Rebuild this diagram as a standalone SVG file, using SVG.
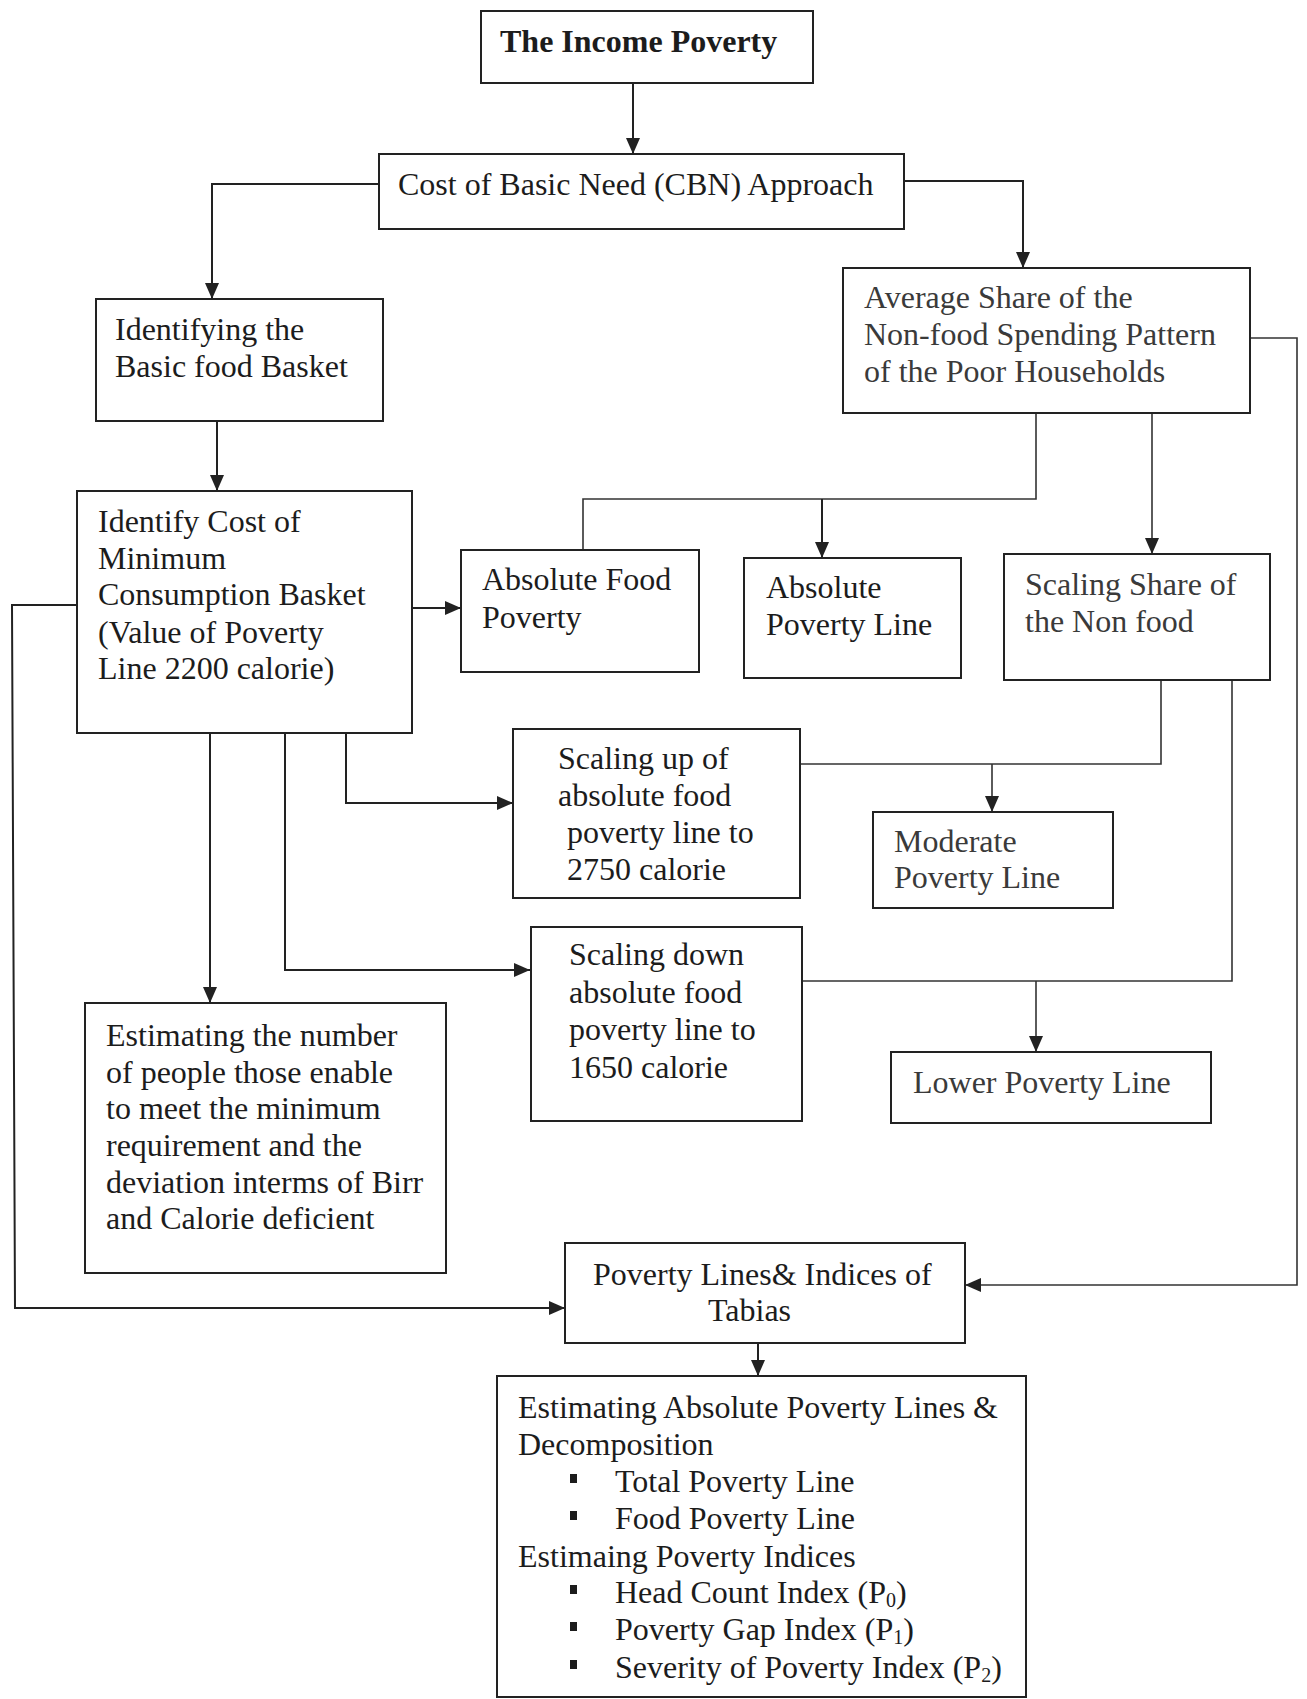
<svg xmlns="http://www.w3.org/2000/svg" width="1307" height="1699" viewBox="0 0 1307 1699">
<style>
.box{fill:#fff;stroke:#222;stroke-width:2}
.t{font-family:"Liberation Serif","Times New Roman",serif;font-size:32px;fill:#1c1c1c}
.g{fill:#3a3a3a}
.b{font-weight:bold}
.c{fill:none;stroke:#222;stroke-width:2}
.c2{fill:none;stroke:#333;stroke-width:1.6}
.sub{font-size:20px}
</style>
<defs>
<marker id="ah" markerUnits="userSpaceOnUse" markerWidth="16" markerHeight="14" refX="16" refY="7" orient="auto">
<path d="M0,0 L16,7 L0,14 Z" fill="#222"/>
</marker>
</defs>
<rect width="1307" height="1699" fill="#fff"/>

<g id="connectors">
<path class="c" d="M633,83 V154" marker-end="url(#ah)"/>
<path class="c" d="M379,184 H212 V299" marker-end="url(#ah)"/>
<path class="c" d="M904,181 H1023 V268" marker-end="url(#ah)"/>
<path class="c" d="M217,421 V491" marker-end="url(#ah)"/>
<path class="c" d="M412,608 H461" marker-end="url(#ah)"/>
<path class="c2" d="M1036,413 V499 H583 V550"/>
<path class="c" d="M822,499 V558" marker-end="url(#ah)"/>
<path class="c2" d="M1152,413 V554" marker-end="url(#ah)"/>
<path class="c2" d="M1250,338 H1297 V1285 H965" marker-end="url(#ah)"/>
<path class="c" d="M346,733 V803 H513" marker-end="url(#ah)"/>
<path class="c" d="M285,733 V970 H530" marker-end="url(#ah)"/>
<path class="c" d="M210,733 V1003" marker-end="url(#ah)"/>
<path class="c" d="M77,605 H12 L15,1308 H565" marker-end="url(#ah)"/>
<path class="c2" d="M1161,680 V764 H800"/>
<path class="c2" d="M992,764 V812" marker-end="url(#ah)"/>
<path class="c2" d="M1232,680 V981 H802"/>
<path class="c2" d="M1036,981 V1052" marker-end="url(#ah)"/>
<path class="c" d="M758,1343 V1376" marker-end="url(#ah)"/>
</g>

<g id="income-poverty">
<rect class="box" x="481" y="11" width="332" height="72"/>
<text class="t b" x="500" y="52">The Income Poverty</text>
</g>

<g id="cbn">
<rect class="box" x="379" y="154" width="525" height="75"/>
<text class="t" x="398" y="195">Cost of Basic Need (CBN) Approach</text>
</g>

<g id="basic-food-basket">
<rect class="box" x="96" y="299" width="287" height="122"/>
<text class="t" x="115" y="340">Identifying the</text>
<text class="t" x="115" y="377">Basic food Basket</text>
</g>

<g id="average-share">
<rect class="box" x="843" y="268" width="407" height="145"/>
<text class="t g" x="864" y="308">Average Share of the</text>
<text class="t g" x="864" y="345">Non-food Spending Pattern</text>
<text class="t g" x="864" y="382">of the Poor Households</text>
</g>

<g id="identify-cost">
<rect class="box" x="77" y="491" width="335" height="242"/>
<text class="t" x="98" y="532">Identify Cost of</text>
<text class="t" x="98" y="569">Minimum</text>
<text class="t" x="98" y="605">Consumption Basket</text>
<text class="t" x="98" y="643">(Value of Poverty</text>
<text class="t" x="98" y="679">Line 2200 calorie)</text>
</g>

<g id="absolute-food-poverty">
<rect class="box" x="461" y="550" width="238" height="122"/>
<text class="t" x="482" y="590">Absolute Food</text>
<text class="t" x="482" y="628">Poverty</text>
</g>

<g id="absolute-poverty-line">
<rect class="box" x="744" y="558" width="217" height="120"/>
<text class="t" x="766" y="598">Absolute</text>
<text class="t" x="766" y="635">Poverty Line</text>
</g>

<g id="scaling-share">
<rect class="box" x="1004" y="554" width="266" height="126"/>
<text class="t g" x="1025" y="595">Scaling Share of</text>
<text class="t g" x="1025" y="632">the Non food</text>
</g>

<g id="scaling-up">
<rect class="box" x="513" y="729" width="287" height="169"/>
<text class="t" x="558" y="769">Scaling up of</text>
<text class="t" x="558" y="806">absolute food</text>
<text class="t" x="567" y="843">poverty line to</text>
<text class="t" x="567" y="880">2750 calorie</text>
</g>

<g id="moderate-poverty-line">
<rect class="box" x="873" y="812" width="240" height="96"/>
<text class="t g" x="894" y="852">Moderate</text>
<text class="t g" x="894" y="888">Poverty Line</text>
</g>

<g id="scaling-down">
<rect class="box" x="531" y="927" width="271" height="194"/>
<text class="t" x="569" y="965">Scaling down</text>
<text class="t" x="569" y="1003">absolute food</text>
<text class="t" x="569" y="1040">poverty line to</text>
<text class="t" x="569" y="1078">1650 calorie</text>
</g>

<g id="lower-poverty-line">
<rect class="box" x="891" y="1052" width="320" height="71"/>
<text class="t g" x="913" y="1093">Lower Poverty Line</text>
</g>

<g id="estimating-number">
<rect class="box" x="85" y="1003" width="361" height="270"/>
<text class="t" x="106" y="1046">Estimating the number</text>
<text class="t" x="106" y="1083">of people those enable</text>
<text class="t" x="106" y="1119">to meet the minimum</text>
<text class="t" x="106" y="1156">requirement and the</text>
<text class="t" x="106" y="1193">deviation interms of Birr</text>
<text class="t" x="106" y="1229">and Calorie deficient</text>
</g>

<g id="poverty-lines-indices">
<rect class="box" x="565" y="1243" width="400" height="100"/>
<text class="t" x="593" y="1285">Poverty Lines&amp; Indices of</text>
<text class="t" x="708" y="1321">Tabias</text>
</g>

<g id="estimating-absolute">
<rect class="box" x="497" y="1376" width="529" height="321"/>
<text class="t" x="518" y="1418">Estimating Absolute Poverty Lines &amp;</text>
<text class="t" x="518" y="1455">Decomposition</text>
<rect x="570" y="1474" width="7" height="9" fill="#1c1c1c"/>
<text class="t" x="615" y="1492">Total Poverty Line</text>
<rect x="570" y="1511" width="7" height="9" fill="#1c1c1c"/>
<text class="t" x="615" y="1529">Food Poverty Line</text>
<text class="t" x="518" y="1567">Estimaing Poverty Indices</text>
<rect x="570" y="1585" width="7" height="9" fill="#1c1c1c"/>
<text class="t" x="615" y="1603">Head Count Index (P<tspan class="sub" dy="4">0</tspan><tspan dy="-4">)</tspan></text>
<rect x="570" y="1622" width="7" height="9" fill="#1c1c1c"/>
<text class="t" x="615" y="1640">Poverty Gap Index (P<tspan class="sub" dy="4">1</tspan><tspan dy="-4">)</tspan></text>
<rect x="570" y="1660" width="7" height="9" fill="#1c1c1c"/>
<text class="t" x="615" y="1678">Severity of Poverty Index (P<tspan class="sub" dy="4">2</tspan><tspan dy="-4">)</tspan></text>
</g>
</svg>
